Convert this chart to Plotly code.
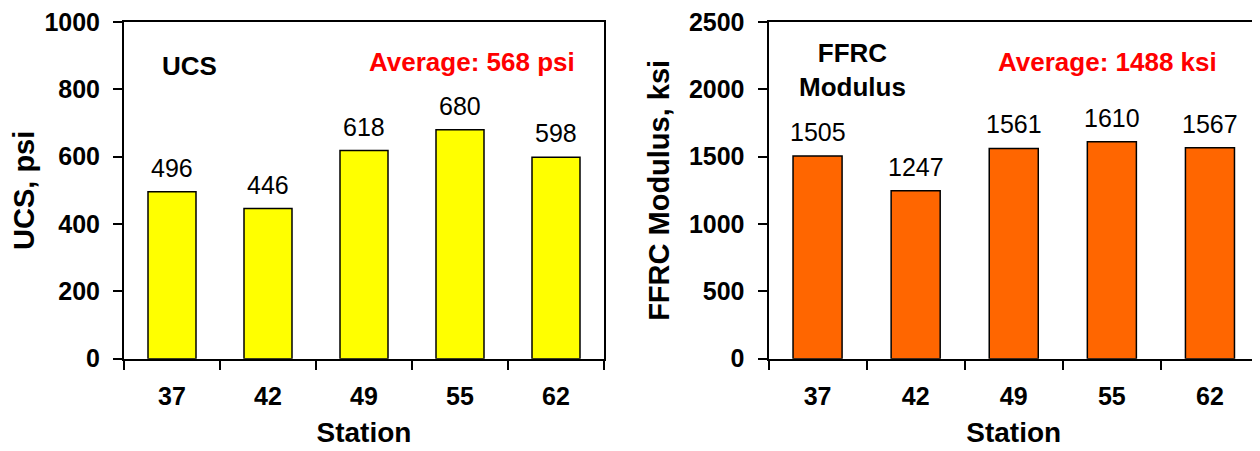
import plotly.graph_objects as go

stations = ["37", "42", "49", "55", "62"]
ucs = [496, 446, 618, 680, 598]
ffrc = [1505, 1247, 1561, 1610, 1567]

FONT = "Liberation Sans, Arial, sans-serif"
W, H = 1260, 451
OFF = 8  # page body margin


def px_x(x):
    return (x - OFF) / W


def px_y(y):
    return 1 - (y - OFF) / H


fig = go.Figure()

fig.add_trace(go.Bar(
    x=stations, y=ucs, width=0.5,
    marker=dict(color="#FFFF00", line=dict(color="black", width=1.5)),
    xaxis="x", yaxis="y", showlegend=False
))
fig.add_trace(go.Bar(
    x=stations, y=ffrc, width=0.5,
    marker=dict(color="#FF6600", line=dict(color="black", width=1.5)),
    xaxis="x2", yaxis="y2", showlegend=False
))

axis_common = dict(
    showline=True, linecolor="black", linewidth=2, mirror=True,
    ticks="outside", tickcolor="black", tickwidth=1.5, ticklen=9,
    showgrid=False, zeroline=False, automargin=False,
    ticklabeloverflow="allow",
    tickfont=dict(family=FONT, size=25, color="black", weight="bold"),
)

xcommon = dict(axis_common, type="category", tickson="boundaries",
               range=[-0.5, 4.5], tickangle=0, ticklabelstandoff=14,
               title=dict(text="Station", standoff=14,
                          font=dict(family=FONT, size=28, color="black", weight="bold")))

ydom = [px_y(358.7), px_y(22)]
ytitle_font = dict(family=FONT, size=29, color="black", weight="bold")

fig.update_layout(
    width=W, height=H,
    margin=dict(l=0, r=0, t=0, b=0),
    plot_bgcolor="white", paper_bgcolor="white",
    xaxis=dict(xcommon, domain=[px_x(124), px_x(604)], anchor="y"),
    yaxis=dict(axis_common, domain=ydom, range=[0, 1000], dtick=200,
               ticklabelstandoff=8, anchor="x",
               title=dict(text="UCS, psi", standoff=7, font=ytitle_font)),
    xaxis2=dict(xcommon, domain=[px_x(768.5), px_x(1259)], anchor="y2"),
    yaxis2=dict(axis_common, domain=ydom, range=[0, 2500], dtick=500,
                ticklabelstandoff=8, anchor="x2",
                title=dict(text="FFRC Modulus, ksi", standoff=11, font=ytitle_font)),
)

# value labels above bars (category index as x)
for xa, ya, vals in [("x", "y", ucs), ("x2", "y2", ffrc)]:
    for i, v in enumerate(vals):
        fig.add_annotation(x=i, y=v, xref=xa, yref=ya, text=str(v),
                           showarrow=False, yanchor="bottom", yshift=8,
                           font=dict(family=FONT, size=25, color="black"))

bold = dict(family=FONT, size=26, color="black", weight="bold")
red = dict(family=FONT, size=26, color="red", weight="bold")
notes = [
    (190, 66, "UCS", bold),
    (472, 62, "Average: 568 psi", red),
    (853, 70, "FFRC<br>Modulus", bold),
    (1107, 62, "Average: 1488 ksi", red),
]
for nx, ny, txt, f in notes:
    fig.add_annotation(x=px_x(nx), y=px_y(ny), xref="paper", yref="paper",
                       xanchor="center", yanchor="middle", align="center",
                       text=txt, showarrow=False, font=f)

fig.write_html("out.html")
